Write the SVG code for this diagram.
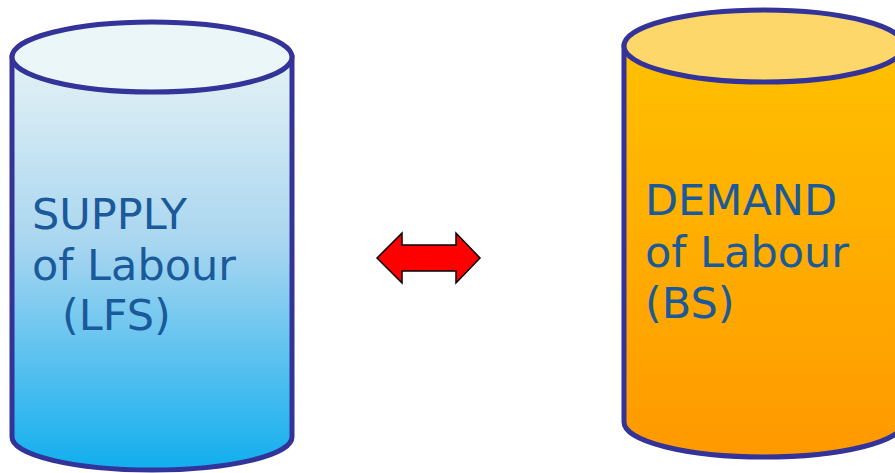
<svg xmlns="http://www.w3.org/2000/svg" width="895" height="473" viewBox="0 0 895 473">
  <defs>
    <linearGradient id="supplyBody" x1="0" y1="0" x2="0" y2="1">
      <stop offset="0" stop-color="#E4F2F4"/>
      <stop offset="0.45" stop-color="#A9D6F0"/>
      <stop offset="1" stop-color="#10AEEE"/>
    </linearGradient>
    <linearGradient id="demandBody" x1="0" y1="0" x2="0" y2="1">
      <stop offset="0" stop-color="#FFC000"/>
      <stop offset="1" stop-color="#FF9900"/>
    </linearGradient>
  </defs>
  <style>
    .cyl { stroke: #333399; stroke-width: 5; }
    .label { font-family: "DejaVu Sans", Verdana, sans-serif; font-size: 43px; fill: #1B5A9A; }
    .arrow { fill: #FF0000; stroke: #000000; stroke-width: 1.5; stroke-linejoin: miter; }
  </style>

  <!-- Supply cylinder -->
  <g id="supply">
    <path class="cyl" fill="url(#supplyBody)" d="M12 57 V437 A140 33 0 0 0 292 437 V57 Z"/>
    <ellipse class="cyl" fill="#EAF6F7" cx="152" cy="57" rx="140" ry="35"/>
    <text class="label" x="32" y="229">SUPPLY</text>
    <text class="label" x="32" y="280">of Labour</text>
    <text class="label" x="62" y="330">(LFS)</text>
  </g>

  <!-- Demand cylinder -->
  <g id="demand">
    <path class="cyl" fill="url(#demandBody)" d="M624 46 V422 A140 35 0 0 0 904 422 V46 Z"/>
    <ellipse class="cyl" fill="#FDD76A" cx="764" cy="46" rx="140" ry="36"/>
    <text class="label" x="645" y="215">DEMAND</text>
    <text class="label" x="645" y="267">of Labour</text>
    <text class="label" x="645" y="318">(BS)</text>
  </g>

  <!-- Two-way arrow between the cylinders -->
  <g id="connectors">
    <polygon class="arrow" points="377,258 402,233 402,245 456,245 456,233 480,258 456,283 456,271 402,271 402,283"/>
  </g>
</svg>
